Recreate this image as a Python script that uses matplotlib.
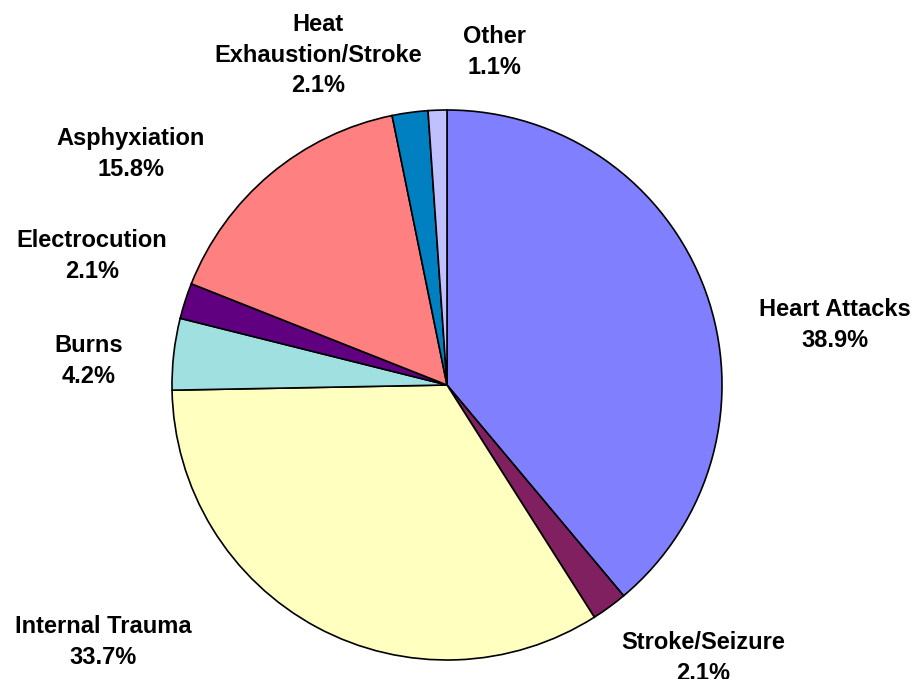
import matplotlib
matplotlib.use("Agg")
import matplotlib.pyplot as plt

W, H = 917, 679

causes = ["Heart Attacks", "Stroke/Seizure", "Internal Trauma", "Burns",
          "Electrocution", "Asphyxiation", "Heat\nExhaustion/Stroke", "Other"]
shares = [38.9, 2.1, 33.7, 4.2, 2.1, 15.8, 2.1, 1.1]
colors = ["#8080FF", "#802060", "#FFFFC0", "#A0E0E0",
          "#600080", "#FF8080", "#0080C0", "#C0C0FF"]

# label centres in pixels from the top-left corner
label_pos = [(835, 325), (703, 658), (103, 642), (89, 361),
             (92, 256), (131, 154), (318, 55), (494, 52)]


def main():
    fig = plt.figure(figsize=(W / 100, H / 100), dpi=100)
    ax = fig.add_axes([0, 0, 1, 1])

    ax.pie(shares, colors=colors, startangle=90, counterclock=False,
           center=(447, H - 385), radius=275,
           wedgeprops=dict(edgecolor="black", linewidth=1.2),
           frame=True)
    ax.set_xlim(0, W)
    ax.set_ylim(0, H)
    ax.set_aspect("equal")
    ax.axis("off")

    for name, val, (x, y) in zip(causes, shares, label_pos):
        ax.text(x, H - y, f"{name}\n{val:.1f}%", ha="center", va="center",
                fontsize=17, fontweight="bold", family="Liberation Sans",
                linespacing=1.42)

    fig.savefig("out.png", dpi=100)


if __name__ == "__main__":
    main()
